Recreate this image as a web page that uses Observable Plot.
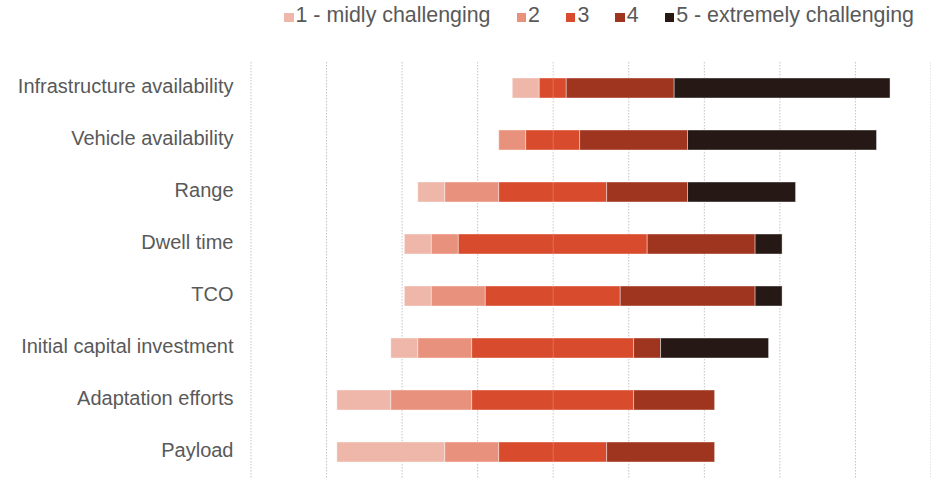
<!DOCTYPE html>
<html>
<head>
<meta charset="utf-8">
<script src="https://cdn.jsdelivr.net/npm/d3@7"></script>
<script src="https://cdn.jsdelivr.net/npm/@observablehq/plot@0.6"></script>
<style>
  html, body { margin: 0; padding: 0; background: #fff; }
  #legend { height: 36px; box-sizing: border-box; padding-top: 3px; padding-left: 284px;
    font-family: "Liberation Sans", Arial, sans-serif; font-size: 21.4px; line-height: 24px; color: #595959; white-space: nowrap; }
  .item { display: inline-block; margin-right: 26px; }
  .sw { display: inline-block; width: 9.5px; height: 9.5px; margin-right: 2px; vertical-align: baseline; }
</style>
</head>
<body>
<div id="legend"></div>
<div id="chart"></div>
<script>
// Categories (top to bottom)
const categories = ["Infrastructure availability", "Vehicle availability", "Range", "Dwell time", "TCO",
  "Initial capital investment", "Adaptation efforts", "Payload"];
// Response levels
const levels = ["1 - midly challenging", "2", "3", "4", "5 - extremely challenging"];
const colors = ["#efb7a9", "#e8927e", "#d84b2c", "#a0351f", "#261915"];
// Number of respondents (of 14) choosing each level, per category
const level1 = [1, 0, 1, 1, 1, 1, 2, 4];
const level2 = [0, 1, 2, 1, 2, 2, 3, 2];
const level3 = [1, 2, 4, 7, 5, 6, 6, 4];
const level4 = [4, 4, 3, 4, 5, 1, 3, 4];
const level5 = [8, 7, 4, 1, 1, 4, 0, 0];
const respondents = 14;
const gridTicks = [-80, -60, -40, -20, 0, 20, 40, 60, 80, 100];

const series = [level1, level2, level3, level4, level5];
const rows = [];
categories.forEach((cat, i) => {
  const counts = series.map(s => s[i]);
  let pos = -(counts[0] + counts[1] + counts[2] / 2);
  counts.forEach((c, j) => {
    if (c > 0) {
      rows.push({category: cat, level: levels[j], x1: pos * 100 / respondents, x2: (pos + c) * 100 / respondents});
    }
    pos += c;
  });
});

// legend
const legend = document.getElementById("legend");
levels.forEach((l, j) => {
  const it = document.createElement("span");
  it.className = "item";
  const sw = document.createElement("span");
  sw.className = "sw";
  sw.style.background = colors[j];
  it.appendChild(sw);
  it.appendChild(document.createTextNode(l));
  legend.appendChild(it);
});

const chart = Plot.plot({
  width: 931,
  height: 442,
  marginLeft: 250.5,
  marginRight: 0.5,
  marginTop: 26,
  marginBottom: 0,
  style: {fontFamily: "'Liberation Sans', Arial, sans-serif", fontSize: "20px", color: "#595959", background: "#fff"},
  x: {domain: [-80, 100], axis: null},
  y: {domain: categories, paddingInner: 0.61, paddingOuter: 0.27, label: null},
  color: {domain: levels, range: colors},
  marks: [
    Plot.ruleX(gridTicks, {stroke: "#c4c4c4", strokeDasharray: "1.5,1.5", strokeWidth: 1}),
    Plot.barX(rows, {y: "category", x1: "x1", x2: "x2", fill: "level", stroke: "#fff", strokeWidth: 0.8, strokeOpacity: 0.5}),
    Plot.ruleX([0], {stroke: "#fff", strokeOpacity: 0.2, strokeWidth: 1}),
    Plot.axisY({tickSize: 0, tickPadding: 17.5, fontSize: 20, dy: -1.5, label: null})
  ]
});
document.getElementById("chart").appendChild(chart);
</script>
</body>
</html>
